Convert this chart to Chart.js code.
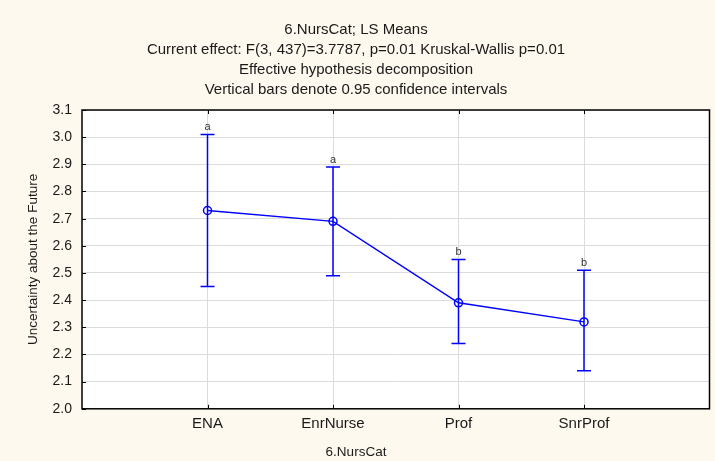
<!DOCTYPE html>
<html>
<head>
<meta charset="utf-8">
<script src="https://cdn.jsdelivr.net/npm/chart.js@4/dist/chart.umd.min.js"></script>
<style>
  html, body { margin: 0; padding: 0; background: #fdf9ee; }
  #wrap { width: 715px; height: 461px; position: relative; }
</style>
</head>
<body>
<div id="wrap"><canvas id="c" width="715" height="461"></canvas></div>
<script>
const categories = ['ENA', 'EnrNurse', 'Prof', 'SnrProf'];
const means = [2.73, 2.69, 2.39, 2.32];
const upperCI = [3.01, 2.89, 2.55, 2.51];
const lowerCI = [2.45, 2.49, 2.24, 2.14];
const groupLetters = ['a', 'a', 'b', 'b'];
const yTickValues = [2.0, 2.1, 2.2, 2.3, 2.4, 2.5, 2.6, 2.7, 2.8, 2.9, 3.0, 3.1];
const titleLines = [
  '6.NursCat; LS Means',
  'Current effect: F(3, 437)=3.7787, p=0.01 Kruskal-Wallis p=0.01',
  'Effective hypothesis decomposition',
  'Vertical bars denote 0.95 confidence intervals'
];
const xAxisTitle = '6.NursCat';
const yAxisTitle = 'Uncertainty about the Future';

const FONT = 'Liberation Sans, Arial, sans-serif';
const TEXT = '#1a1a1a';
const BLUE = '#0000ff';

const decorPlugin = {
  id: 'decor',
  beforeDraw(chart) {
    const ctx = chart.ctx, a = chart.chartArea;
    ctx.save();
    ctx.fillStyle = '#fdf9ee';
    ctx.fillRect(0, 0, chart.width, chart.height);
    ctx.fillStyle = '#ffffff';
    ctx.fillRect(a.left, a.top, a.right - a.left, a.bottom - a.top);
    ctx.restore();
  },
  afterDatasetsDraw(chart) {
    const ctx = chart.ctx;
    const xs = chart.scales.x, ys = chart.scales.y;
    ctx.save();
    ctx.strokeStyle = BLUE;
    ctx.lineWidth = 1.5;
    for (let i = 0; i < categories.length; i++) {
      const x = xs.getPixelForValue(i);
      const yu = ys.getPixelForValue(upperCI[i]);
      const yl = ys.getPixelForValue(lowerCI[i]);
      ctx.beginPath();
      ctx.moveTo(x, yu); ctx.lineTo(x, yl);
      ctx.moveTo(x - 7, yu); ctx.lineTo(x + 7, yu);
      ctx.moveTo(x - 7, yl); ctx.lineTo(x + 7, yl);
      ctx.stroke();
      ctx.fillStyle = '#333333';
      ctx.font = '11px ' + FONT;
      ctx.textAlign = 'center';
      ctx.textBaseline = 'bottom';
      ctx.fillText(groupLetters[i], x, yu - 2);
    }
    ctx.restore();
  },
  afterDraw(chart) {
    const ctx = chart.ctx, a = chart.chartArea;
    const xs = chart.scales.x, ys = chart.scales.y;
    ctx.save();
    ctx.strokeStyle = '#000000';
    ctx.lineWidth = 1;
    for (let i = 0; i < categories.length; i++) {
      const x = Math.round(xs.getPixelForValue(i)) + 0.5;
      ctx.beginPath();
      ctx.moveTo(x, a.top); ctx.lineTo(x, a.top + 4);
      ctx.moveTo(x, a.bottom); ctx.lineTo(x, a.bottom - 4);
      ctx.stroke();
    }
    yTickValues.forEach(v => {
      const y = Math.round(ys.getPixelForValue(v)) + 0.5;
      ctx.beginPath();
      ctx.moveTo(a.left, y); ctx.lineTo(a.left + 4, y);
      ctx.stroke();
    });
    ctx.lineWidth = 1.5;
    ctx.strokeRect(a.left, a.top, a.right - a.left, a.bottom - a.top);
    ctx.restore();
  }
};

new Chart(document.getElementById('c'), {
  type: 'line',
  data: {
    datasets: [{
      data: means.map((m, i) => ({ x: i, y: m })),
      borderColor: BLUE,
      borderWidth: 1.5,
      pointRadius: 4,
      pointBackgroundColor: 'rgba(0,0,0,0)',
      pointBorderColor: BLUE,
      pointBorderWidth: 1.5,
      tension: 0
    }]
  },
  options: {
    responsive: false,
    animation: false,
    devicePixelRatio: 1,
    layout: { padding: { left: 0, right: 3, top: 0, bottom: 0 } },
    plugins: {
      legend: { display: false },
      tooltip: { enabled: false },
      title: {
        display: true,
        text: titleLines,
        color: TEXT,
        font: { family: FONT, size: 15, weight: 'normal', lineHeight: '20px' },
        padding: { top: 20, bottom: 10 }
      },
      subtitle: {
        display: true,
        position: 'bottom',
        text: xAxisTitle,
        color: TEXT,
        font: { family: FONT, size: 13.5, weight: 'normal' },
        padding: { top: 5, bottom: 1 }
      }
    },
    scales: {
      x: {
        type: 'linear',
        min: -1,
        max: 4,
        afterBuildTicks(scale) { scale.ticks = categories.map((c, i) => ({ value: i })); },
        ticks: {
          color: TEXT,
          font: { family: FONT, size: 15 },
          padding: 6,
          maxRotation: 0,
          callback: (v) => categories[v]
        },
        grid: { color: '#dcdcdc', lineWidth: 1, drawTicks: false },
        border: { display: false }
      },
      y: {
        type: 'linear',
        min: 2.0,
        max: 3.1,
        afterBuildTicks(scale) { scale.ticks = yTickValues.map(v => ({ value: v })); },
        afterFit(scale) { scale.width = 82; },
        ticks: {
          color: TEXT,
          font: { family: FONT, size: 14 },
          padding: 10,
          callback: (v) => Number(v).toFixed(1)
        },
        grid: { color: '#dcdcdc', lineWidth: 1, drawTicks: false },
        border: { display: false },
        title: {
          display: true,
          text: yAxisTitle,
          color: TEXT,
          font: { family: FONT, size: 13.5 },
          padding: { top: 25, bottom: 0 }
        }
      }
    }
  },
  plugins: [decorPlugin]
});
</script>
</body>
</html>
